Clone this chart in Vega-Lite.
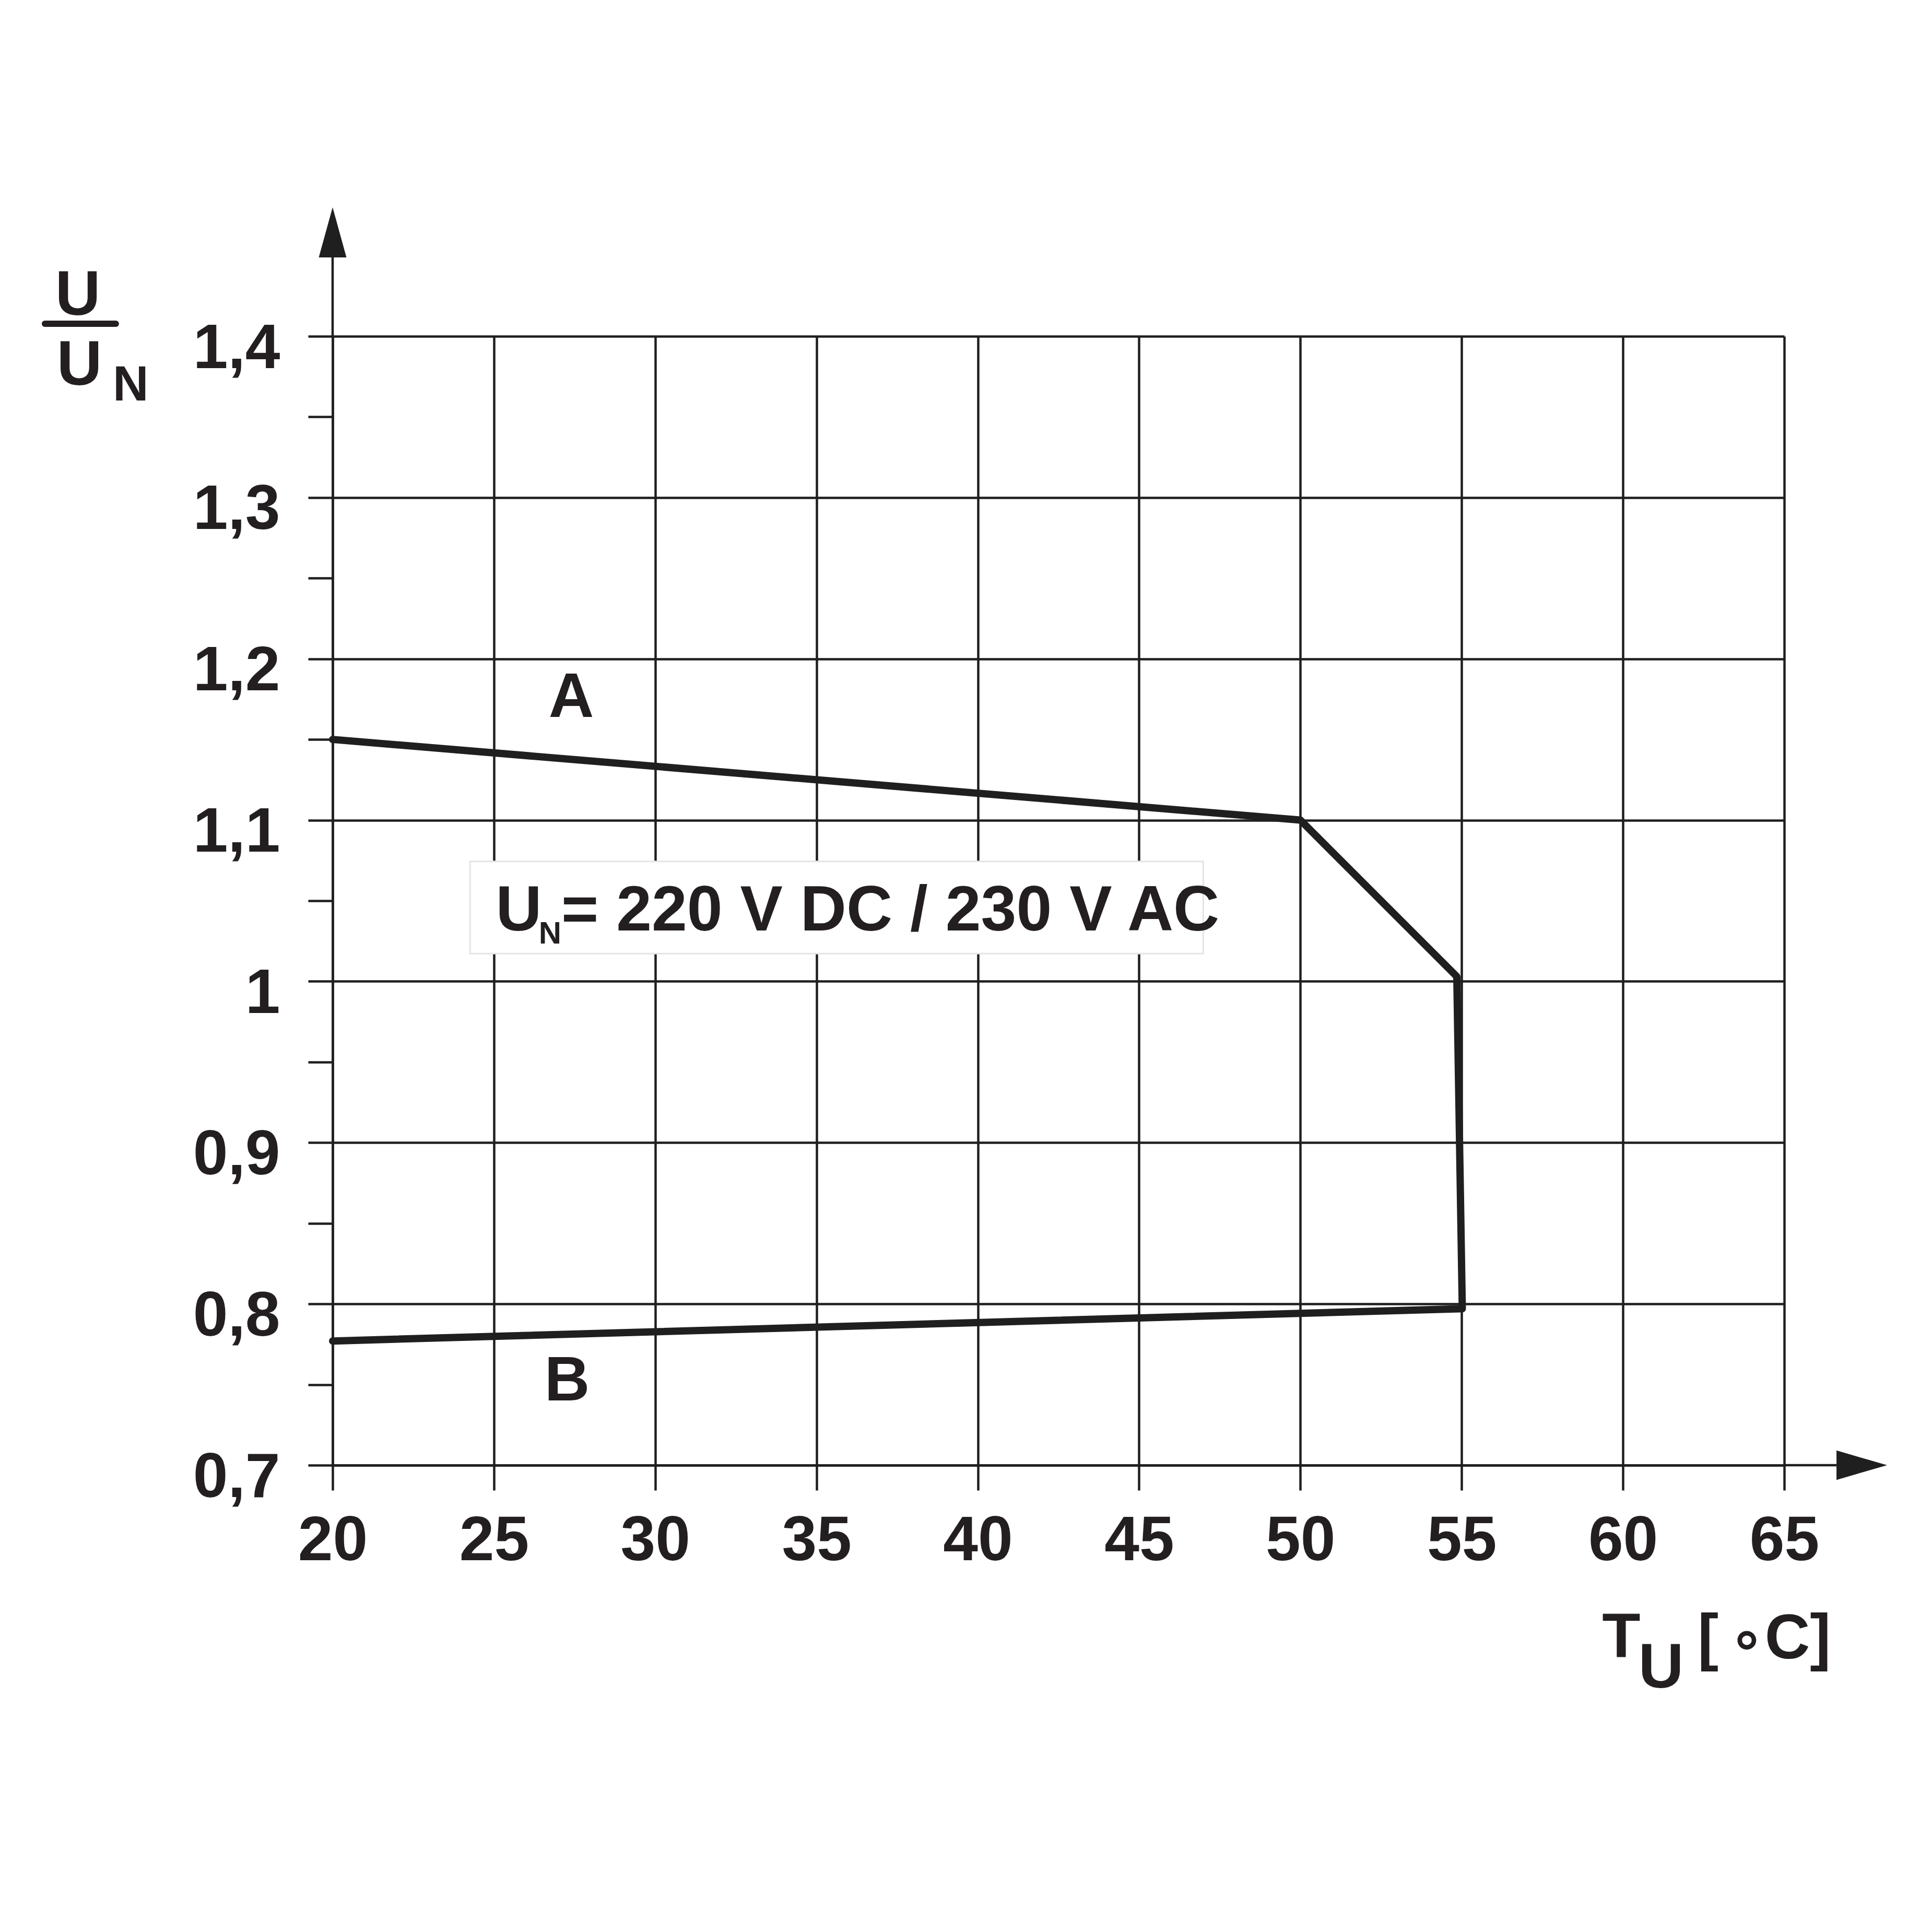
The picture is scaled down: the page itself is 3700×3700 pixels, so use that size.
{
  "$schema": "https://vega.github.io/schema/vega-lite/v6.json",
  "width": 2780,
  "height": 2162,
  "autosize": {"type": "none"},
  "padding": {"left": 637, "top": 644, "right": 283, "bottom": 894},
  "background": "white",
  "config": {
    "view": {"stroke": null},
    "text": {"font": "Liberation Sans", "fontWeight": "bold", "color": "#231f20"}
  },
  "datasets": {
    "curve": [
      {"t": 20, "u": 1.15, "o": 1, "curve": "A"},
      {"t": 50, "u": 1.10, "o": 2, "curve": "A"},
      {"t": 54.85, "u": 1.003, "o": 3, "curve": "A"},
      {"t": 55.02, "u": 0.797, "o": 4, "curve": "B"},
      {"t": 20, "u": 0.777, "o": 5, "curve": "B"}
    ],
    "box": [{"t": 24.26, "t2": 46.99, "u": 1.0744, "u2": 1.0172}],
    "axisext": [
      {"t": 20, "t2": 20, "u": 1.4, "u2": 1.449},
      {"t": 65, "t2": 66.62, "u": 0.7, "u2": 0.7}
    ],
    "arrowUp": [{"t": 20, "u": 1.4489}],
    "arrowRight": [{"t": 66.62, "u": 0.7}],
    "fracbar": [{"t": 11.08, "t2": 13.28, "u": 1.4078, "u2": 1.4078}],
    "bigText": [
      {"t": 27.4, "u": 1.164, "label": "A"},
      {"t": 27.27, "u": 0.740, "label": "B"},
      {"t": 12.10, "u": 1.4133, "label": "U"},
      {"t": 12.15, "u": 1.3699, "label": "U"},
      {"t": 59.95, "u": 0.5809, "label": "T"},
      {"t": 61.18, "u": 0.5621, "label": "U"},
      {"t": 62.64, "u": 0.5803, "label": "["},
      {"t": 65.42, "u": 0.5803, "label": "C]"}
    ],
    "ring": [{"t": 63.84, "u": 0.5803, "label": "∘"}],
    "subN": [{"t": 13.74, "u": 1.3602, "label": "N"}],
    "annoBig": [
      {"t": 25.06, "u": 1.0314, "label": "U"},
      {"t": 27.09, "u": 1.0314, "label": "= 220 V DC / 230 V AC"}
    ],
    "annoSub": [{"t": 26.39, "u": 1.0236, "label": "N"}]
  },
  "encoding": {
    "x": {
      "field": "t",
      "type": "quantitative",
      "scale": {"domain": [20, 65], "nice": false, "zero": false},
      "axis": {
        "values": [20, 25, 30, 35, 40, 45, 50, 55, 60, 65],
        "title": null,
        "labelFont": "Liberation Sans",
        "labelFontSize": 120,
        "labelFontWeight": "bold",
        "labelColor": "#231f20",
        "labelPadding": 38,
        "labelFlush": false,
        "labelOverlap": false,
        "labelBound": false,
        "tickSize": 48,
        "tickWidth": 4.5,
        "tickColor": "#1f1f1f",
        "grid": true,
        "gridColor": "#1f1f1f",
        "gridWidth": 4.5,
        "gridOpacity": 1,
        "domainColor": "#1f1f1f",
        "domainWidth": 4.5
      }
    },
    "y": {
      "field": "u",
      "type": "quantitative",
      "scale": {"domain": [0.7, 1.4], "nice": false, "zero": false},
      "axis": {
        "values": [0.7, 0.75, 0.8, 0.85, 0.9, 0.95, 1.0, 1.05, 1.1, 1.15, 1.2, 1.25, 1.3, 1.35, 1.4],
        "title": null,
        "labelExpr": "round(datum.value*100) % 10 == 0 ? replace(format(datum.value, '.1~f'), '.', ',') : ''",
        "labelFont": "Liberation Sans",
        "labelFontSize": 120,
        "labelFontWeight": "bold",
        "labelColor": "#231f20",
        "labelAlign": "right",
        "labelBaseline": "middle",
        "labelOffset": 24,
        "labelPadding": 54,
        "labelOverlap": false,
        "labelBound": false,
        "labelFlush": false,
        "tickSize": 47,
        "tickWidth": 4.5,
        "tickColor": "#1f1f1f",
        "grid": true,
        "gridColor": "#1f1f1f",
        "gridWidth": 4.5,
        "gridOpacity": {"condition": {"test": "round(datum.value*100) % 10 == 0", "value": 1}, "value": 0},
        "domainColor": "#1f1f1f",
        "domainWidth": 4.5
      }
    }
  },
  "layer": [
    {
      "data": {"name": "axisext"},
      "mark": {"type": "rule", "color": "#1f1f1f", "strokeWidth": 4.5},
      "encoding": {"x2": {"field": "t2"}, "y2": {"field": "u2"}}
    },
    {
      "data": {"name": "arrowUp"},
      "mark": {"type": "point", "shape": "M0,-1L0.276,0L-0.276,0Z", "size": 36864, "filled": true, "color": "#1f1f1f", "opacity": 1, "strokeWidth": 0}
    },
    {
      "data": {"name": "arrowRight"},
      "mark": {"type": "point", "shape": "M1,0L0,-0.29L0,0.29Z", "size": 37636, "filled": true, "color": "#1f1f1f", "opacity": 1, "strokeWidth": 0}
    },
    {
      "data": {"name": "box"},
      "mark": {"type": "rect", "fill": "white", "stroke": "#e4e4e4", "strokeWidth": 3},
      "encoding": {"x2": {"field": "t2"}, "y2": {"field": "u2"}}
    },
    {
      "data": {"name": "curve"},
      "mark": {"type": "line", "color": "#1f1f1f", "strokeWidth": 14, "strokeJoin": "round", "strokeCap": "round"},
      "encoding": {"order": {"field": "o", "type": "quantitative"}}
    },
    {
      "data": {"name": "fracbar"},
      "mark": {"type": "rule", "color": "#231f20", "strokeWidth": 12, "strokeCap": "round"},
      "encoding": {"x2": {"field": "t2"}, "y2": {"field": "u2"}}
    },
    {
      "data": {"name": "bigText"},
      "mark": {"type": "text", "fontSize": 120, "align": "center", "baseline": "alphabetic"},
      "encoding": {"text": {"field": "label"}}
    },
    {
      "data": {"name": "ring"},
      "mark": {"type": "text", "font": "DejaVu Sans", "fontSize": 110, "align": "center", "baseline": "alphabetic"},
      "encoding": {"text": {"field": "label"}}
    },
    {
      "data": {"name": "subN"},
      "mark": {"type": "text", "fontSize": 95, "align": "center", "baseline": "alphabetic"},
      "encoding": {"text": {"field": "label"}}
    },
    {
      "data": {"name": "annoBig"},
      "mark": {"type": "text", "fontSize": 122, "align": "left", "baseline": "alphabetic"},
      "encoding": {"text": {"field": "label"}}
    },
    {
      "data": {"name": "annoSub"},
      "mark": {"type": "text", "fontSize": 60, "align": "left", "baseline": "alphabetic"},
      "encoding": {"text": {"field": "label"}}
    }
  ]
}
